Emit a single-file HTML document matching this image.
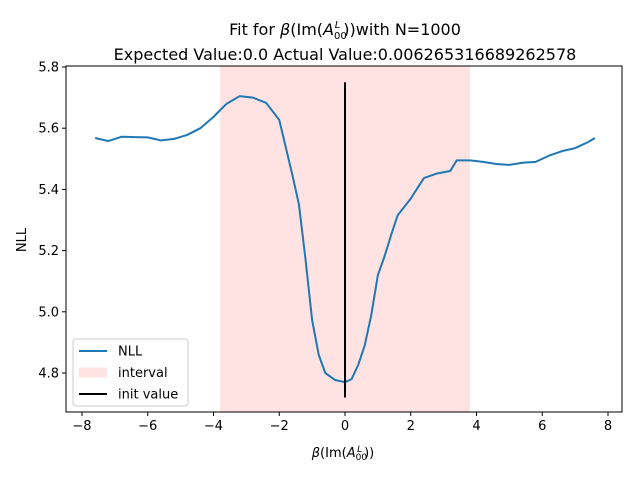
<!DOCTYPE html>
<html><head><meta charset="utf-8"><style>
body{margin:0;background:#fff}
svg{font-family:"DejaVu Sans","Liberation Sans",sans-serif}
</style></head><body>
<svg id="chart" width="640" height="480" viewBox="0 0 640 480" xmlns="http://www.w3.org/2000/svg">
<text x="345" y="35" font-size="16" text-anchor="middle">Fit for <tspan font-style="italic">β</tspan>(Im(<tspan font-style="italic">A</tspan><tspan font-size="10" dy="4">00</tspan><tspan font-size="10" font-style="italic" dx="-12" dy="-11">L</tspan><tspan dy="7" dx="3">))with N=1000</tspan></text>
<text x="345" y="60" font-size="16" text-anchor="middle">Expected Value:0.0 Actual Value:0.006265316689262578</text>
<g id="plot"></g>
<text x="343" y="457" font-size="13" text-anchor="middle"><tspan font-style="italic">β</tspan>(Im(<tspan font-style="italic">A</tspan><tspan font-size="9" dy="3">00</tspan><tspan font-size="9" font-style="italic" dx="-10" dy="-8">L</tspan><tspan dy="5" dx="2">))</tspan></text>
<text transform="translate(26,240) rotate(-90)" font-size="13" text-anchor="middle">NLL</text>
</svg>
<script>
const xs=[-7.6,-7.2,-6.8,-6.4,-6.0,-5.6,-5.2,-4.8,-4.4,-4.0,-3.6,-3.2,-2.8,-2.4,-2.0,-1.6,-1.4,-1.2,-1.0,-0.8,-0.6,-0.3,0,0.2,0.4,0.6,0.8,1.0,1.2,1.4,1.6,2.0,2.4,2.8,3.2,3.4,3.8,4.2,4.6,5.0,5.4,5.8,6.2,6.6,7.0,7.4,7.6];
const nll=[5.568,5.558,5.572,5.571,5.57,5.56,5.565,5.578,5.60,5.637,5.68,5.705,5.70,5.683,5.627,5.447,5.35,5.17,4.973,4.86,4.80,4.777,4.77,4.78,4.826,4.89,4.99,5.12,5.18,5.25,5.315,5.37,5.437,5.452,5.46,5.495,5.495,5.49,5.483,5.48,5.487,5.49,5.51,5.525,5.535,5.555,5.568];
const intervalRange=[-3.8,3.8];
const initValue=0;
const initRange=[4.72,5.75];
const xTicks=[-8,-6,-4,-2,0,2,4,6,8];
const yTicks=[4.8,5.0,5.2,5.4,5.6,5.8];
const L=66,R=622,T=66,B=412;
const X=v=>345+v*32.875;
const Y=v=>373-(v-4.8)*306;
const NS="http://www.w3.org/2000/svg";
const g=document.getElementById('plot');
function mk(t,a){const e=document.createElementNS(NS,t);for(const k in a)e.setAttribute(k,a[k]);g.appendChild(e);return e;}
let e=mk('rect',{x:X(intervalRange[0]),y:T,width:X(intervalRange[1])-X(intervalRange[0]),height:B-T,fill:'#ff0000','fill-opacity':0.11});


e=mk('polyline',{points:xs.map((x,i)=>X(x)+','+Y(nll[i])).join(' '),fill:'none',stroke:'#1f77b4','stroke-width':2,'stroke-linejoin':'round'});


e=mk('line',{x1:X(initValue),x2:X(initValue),y1:Y(initRange[0]),y2:Y(initRange[1]),stroke:'#000','stroke-width':2});


e=mk('rect',{x:L,y:T,width:R-L,height:B-T,fill:'none',stroke:'#000','stroke-width':1});


xTicks.forEach(t=>{
 let l=mk('line',{x1:X(t),x2:X(t),y1:B,y2:B+4,stroke:'#000'});
 
 
 let s=mk('text',{x:X(t),y:B+18,'font-size':13,'text-anchor':'middle'});
 s.textContent=(t<0?'\u2212'+(-t):t);
 
 
});
yTicks.forEach(t=>{
 let l=mk('line',{x1:L-4,x2:L,y1:Y(t),y2:Y(t),stroke:'#000'});
 
 
 let s=mk('text',{x:L-7,y:Y(t)+4.5,'font-size':13,'text-anchor':'end'});
 s.textContent=t.toFixed(1);
 
 
});
e=mk('rect',{x:73,y:339,width:115,height:67,rx:3,fill:'#fff','fill-opacity':0.8,stroke:'#ccc'});


const leg=[['NLL','line','#1f77b4'],['interval','patch','#ffe3e3'],['init value','line','#000']];
leg.forEach((d,i)=>{
 const yy=351+i*21.5;
 let m;
 if(d[1]==='line') m=mk('line',{x1:79,x2:107,y1:yy,y2:yy,stroke:d[2],'stroke-width':2});
 else m=mk('rect',{x:79,y:yy-5,width:28,height:10,fill:d[2]});
 
 
 let s=mk('text',{x:118,y:yy+4.5,'font-size':13});
 s.textContent=d[0];
 
 
});
</script>
</body></html>
